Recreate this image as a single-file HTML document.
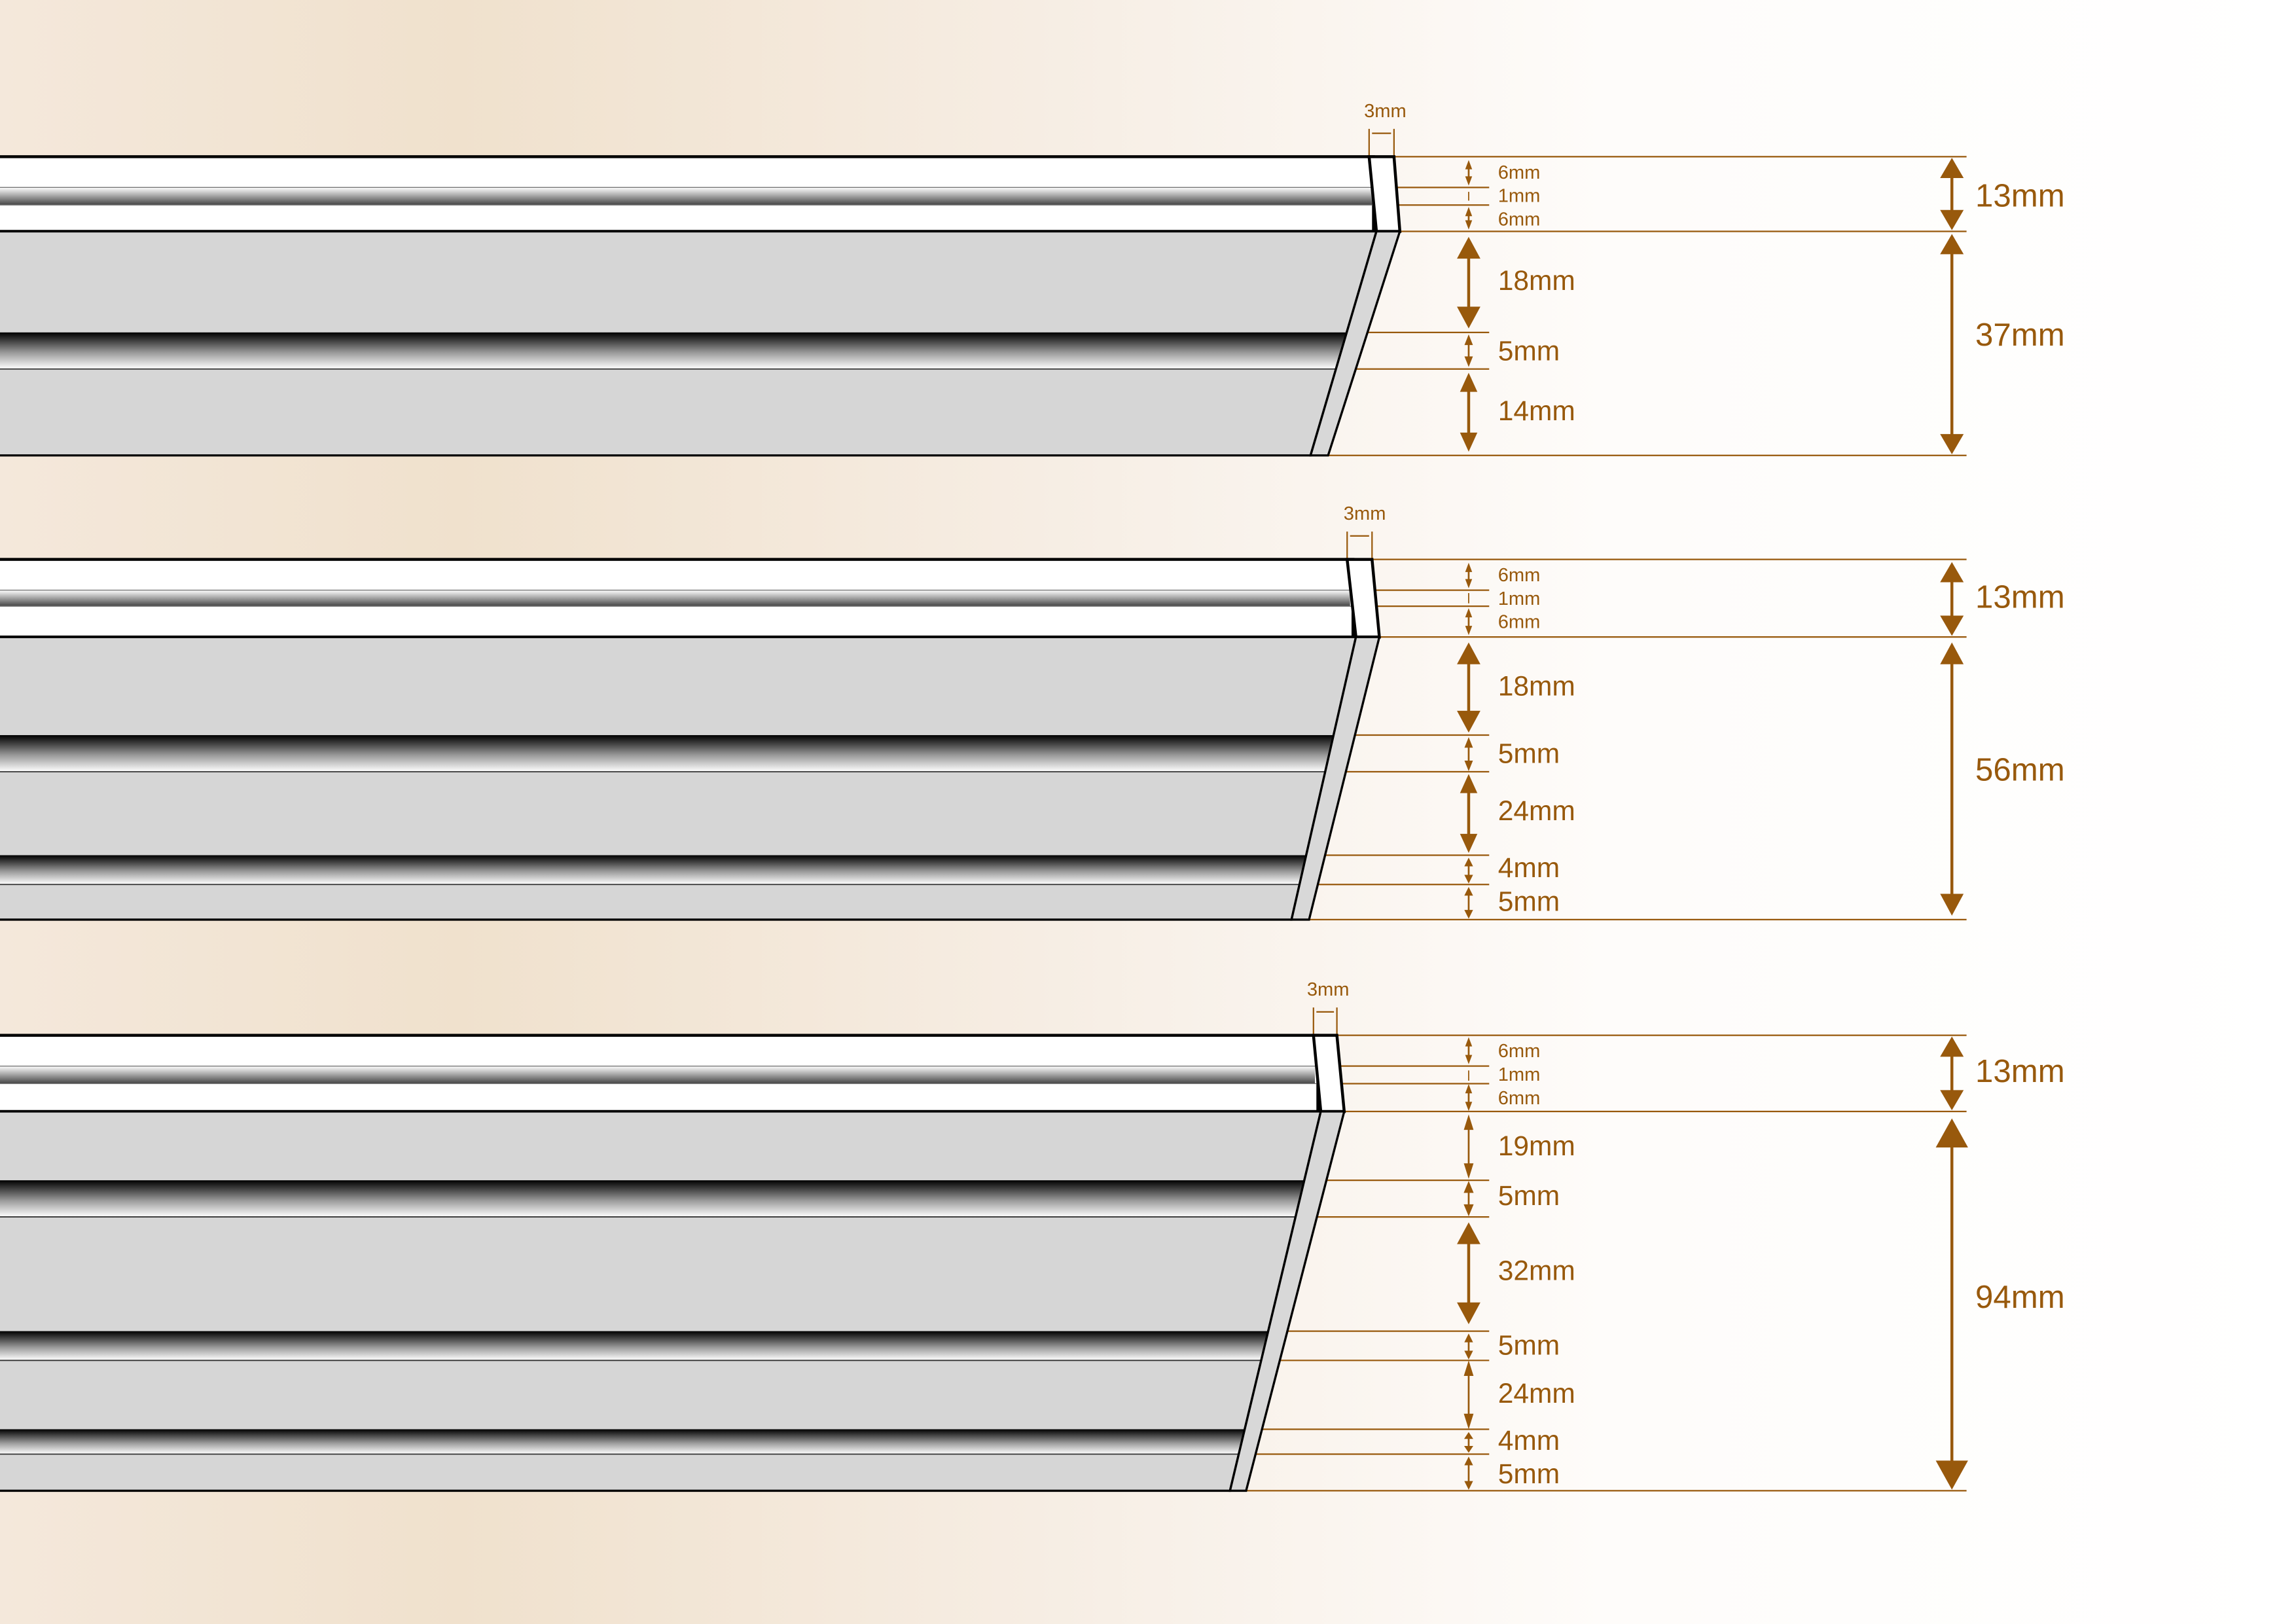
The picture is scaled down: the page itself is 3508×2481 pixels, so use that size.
<!DOCTYPE html>
<html><head><meta charset="utf-8"><style>
html,body{margin:0;padding:0;width:3508px;height:2481px;overflow:hidden;background:#fff}
svg{display:block}
text{font-family:"Liberation Sans",sans-serif;fill:#98590c}
</style></head><body>
<svg width="3508" height="2481" viewBox="0 0 1568 1109" preserveAspectRatio="none" xmlns="http://www.w3.org/2000/svg">
<defs>
<linearGradient id="bg" x1="0" x2="1" y1="0" y2="0">
<stop offset="0" stop-color="#f4e8db"/><stop offset="0.2" stop-color="#f0e1cd"/><stop offset="0.45" stop-color="#f6ede3"/><stop offset="0.7" stop-color="#fefcfa"/><stop offset="1" stop-color="#fff"/></linearGradient>
<linearGradient id="dk" x1="0" x2="0" y1="0" y2="1"><stop offset="0" stop-color="#000"/><stop offset="0.55" stop-color="#999"/><stop offset="1" stop-color="#fff"/></linearGradient>
<linearGradient id="th" x1="0" x2="0" y1="0" y2="1"><stop offset="0" stop-color="#fff"/><stop offset="0.45" stop-color="#aaa"/><stop offset="1" stop-color="#444"/></linearGradient>
<clipPath id="c1"><polygon points="-5,158 940,158 895,311 -5,311"/></clipPath>
<clipPath id="c2"><polygon points="-5,435 926,435 882,628 -5,628"/></clipPath>
<clipPath id="c3"><polygon points="-5,759 902,759 840,1018 -5,1018"/></clipPath>
</defs>
<rect width="1568" height="1109" fill="url(#bg)"/>

<g stroke="#98590c" stroke-width="1" fill="none">
<line x1="952" y1="107" x2="1343" y2="107"/><line x1="956" y1="158" x2="1343" y2="158"/><line x1="907" y1="311" x2="1343" y2="311"/>
<line x1="937" y1="128" x2="1017" y2="128"/><line x1="938" y1="140" x2="1017" y2="140"/>
<line x1="920" y1="227" x2="1017" y2="227"/><line x1="913" y1="252" x2="1017" y2="252"/>
<line x1="935" y1="88" x2="935" y2="107"/><line x1="952" y1="88" x2="952" y2="107"/><line x1="937" y1="91" x2="950" y2="91"/>
<line x1="937" y1="382" x2="1343" y2="382"/><line x1="942" y1="435" x2="1343" y2="435"/><line x1="894" y1="628" x2="1343" y2="628"/>
<line x1="922" y1="403" x2="1017" y2="403"/><line x1="923" y1="414" x2="1017" y2="414"/>
<line x1="910" y1="502" x2="1017" y2="502"/><line x1="904" y1="527" x2="1017" y2="527"/>
<line x1="890" y1="584" x2="1017" y2="584"/><line x1="886" y1="604" x2="1017" y2="604"/>
<line x1="920" y1="363" x2="920" y2="382"/><line x1="937" y1="363" x2="937" y2="382"/><line x1="922" y1="366" x2="935" y2="366"/>
<line x1="913" y1="707" x2="1343" y2="707"/><line x1="918" y1="759" x2="1343" y2="759"/><line x1="851" y1="1018" x2="1343" y2="1018"/>
<line x1="898" y1="728" x2="1017" y2="728"/><line x1="899" y1="740" x2="1017" y2="740"/>
<line x1="891" y1="806" x2="1017" y2="806"/><line x1="884" y1="831" x2="1017" y2="831"/>
<line x1="866" y1="909" x2="1017" y2="909"/><line x1="861" y1="929" x2="1017" y2="929"/>
<line x1="849" y1="976" x2="1017" y2="976"/><line x1="845" y1="993" x2="1017" y2="993"/>
<line x1="897" y1="688" x2="897" y2="707"/><line x1="913" y1="688" x2="913" y2="707"/><line x1="899" y1="691" x2="911" y2="691"/>
</g>

<rect x="-5" y="107" width="943" height="51" fill="#fff" stroke="#000" stroke-width="2"/>
<rect x="0" y="128" width="937" height="12" fill="url(#th)"/>
<line x1="0" y1="128" x2="937" y2="128" stroke="#777" stroke-width="0.6"/><line x1="0" y1="140" x2="938" y2="140" stroke="#777" stroke-width="0.6"/>
<polygon points="935,107 952,107 956,158 940,158" fill="#fff" stroke="#000" stroke-width="2"/>
<g clip-path="url(#c1)"><rect x="-5" y="158" width="965" height="153" fill="#d6d6d6"/><rect x="-5" y="227" width="965" height="25" fill="url(#dk)"/>
<line x1="0" y1="252" x2="960" y2="252" stroke="#333" stroke-width="0.8"/></g>
<polygon points="-5,158 940,158 895,311 -5,311" fill="none" stroke="#000" stroke-width="1.5"/>
<polygon points="940,158 956,158 907,311 895,311" fill="#d8d8d8" stroke="#000" stroke-width="1.5"/>

<rect x="-5" y="382" width="929" height="53" fill="#fff" stroke="#000" stroke-width="2"/>
<rect x="0" y="403" width="922" height="11" fill="url(#th)"/>
<line x1="0" y1="403" x2="922" y2="403" stroke="#777" stroke-width="0.6"/><line x1="0" y1="414" x2="923" y2="414" stroke="#777" stroke-width="0.6"/>
<polygon points="920,382 937,382 942,435 926,435" fill="#fff" stroke="#000" stroke-width="2"/>
<g clip-path="url(#c2)"><rect x="-5" y="435" width="965" height="193" fill="#d6d6d6"/><rect x="-5" y="502" width="965" height="25" fill="url(#dk)"/><rect x="-5" y="584" width="965" height="20" fill="url(#dk)"/>
<line x1="0" y1="527" x2="960" y2="527" stroke="#333" stroke-width="0.8"/><line x1="0" y1="604" x2="960" y2="604" stroke="#333" stroke-width="0.8"/></g>
<polygon points="-5,435 926,435 882,628 -5,628" fill="none" stroke="#000" stroke-width="1.5"/>
<polygon points="926,435 942,435 894,628 882,628" fill="#d8d8d8" stroke="#000" stroke-width="1.5"/>

<rect x="-5" y="707" width="905" height="52" fill="#fff" stroke="#000" stroke-width="2"/>
<rect x="0" y="728" width="898" height="12" fill="url(#th)"/>
<line x1="0" y1="728" x2="898" y2="728" stroke="#777" stroke-width="0.6"/><line x1="0" y1="740" x2="899" y2="740" stroke="#777" stroke-width="0.6"/>
<polygon points="897,707 913,707 918,759 902,759" fill="#fff" stroke="#000" stroke-width="2"/>
<g clip-path="url(#c3)"><rect x="-5" y="759" width="965" height="259" fill="#d6d6d6"/><rect x="-5" y="806" width="965" height="25" fill="url(#dk)"/><rect x="-5" y="909" width="965" height="20" fill="url(#dk)"/><rect x="-5" y="976" width="965" height="17" fill="url(#dk)"/>
<line x1="0" y1="831" x2="960" y2="831" stroke="#333" stroke-width="0.8"/><line x1="0" y1="929" x2="960" y2="929" stroke="#333" stroke-width="0.8"/><line x1="0" y1="993" x2="960" y2="993" stroke="#333" stroke-width="0.8"/></g>
<polygon points="-5,759 902,759 840,1018 -5,1018" fill="none" stroke="#000" stroke-width="1.5"/>
<polygon points="902,759 918,759 851,1018 840,1018" fill="#d8d8d8" stroke="#000" stroke-width="1.5"/>

<g stroke="#98590c" stroke-width="1.2" fill="#98590c">
<line x1="1003" y1="113" x2="1003" y2="123"/><polygon points="1003,111 1001.5,115 1004.5,115"/><polygon points="1003,125 1001.5,121 1004.5,121"/>
<line x1="1003" y1="131" x2="1003" y2="137" stroke-width="0.8"/>
<line x1="1003" y1="145" x2="1003" y2="153"/><polygon points="1003,143 1001.5,147 1004.5,147"/><polygon points="1003,155 1001.5,151 1004.5,151"/>
<line x1="1003" y1="170" x2="1003" y2="216" stroke-width="2"/><polygon points="1003,163 996,176 1010,176"/><polygon points="1003,223 996,210 1010,210"/>
<line x1="1003" y1="232" x2="1003" y2="247"/><polygon points="1003,230 1001,235 1005,235"/><polygon points="1003,249 1001,244 1005,244"/>
<line x1="1003" y1="262" x2="1003" y2="301" stroke-width="2"/><polygon points="1003,256 998,267 1008,267"/><polygon points="1003,307 998,296 1008,296"/>
<line x1="1333" y1="115" x2="1333" y2="150" stroke-width="2"/><polygon points="1333,109 1326,121 1340,121"/><polygon points="1333,156 1326,144 1340,144"/>
<line x1="1333" y1="167" x2="1333" y2="303" stroke-width="2"/><polygon points="1333,161 1326,173 1340,173"/><polygon points="1333,309 1326,297 1340,297"/>
<line x1="1003" y1="388" x2="1003" y2="398"/><polygon points="1003,386 1001.5,390 1004.5,390"/><polygon points="1003,400 1001.5,396 1004.5,396"/>
<line x1="1003" y1="405" x2="1003" y2="412" stroke-width="0.8"/>
<line x1="1003" y1="419" x2="1003" y2="430"/><polygon points="1003,417 1001.5,421 1004.5,421"/><polygon points="1003,432 1001.5,428 1004.5,428"/>
<line x1="1003" y1="447" x2="1003" y2="492" stroke-width="2"/><polygon points="1003,440 996,453 1010,453"/><polygon points="1003,499 996,486 1010,486"/>
<line x1="1003" y1="507" x2="1003" y2="523"/><polygon points="1003,505 1001,510 1005,510"/><polygon points="1003,525 1001,520 1005,520"/>
<line x1="1003" y1="536" x2="1003" y2="575" stroke-width="2"/><polygon points="1003,530 998,541 1008,541"/><polygon points="1003,581 998,570 1008,570"/>
<line x1="1003" y1="589" x2="1003" y2="600"/><polygon points="1003,587 1001,591 1005,591"/><polygon points="1003,602 1001,598 1005,598"/>
<line x1="1003" y1="609" x2="1003" y2="624"/><polygon points="1003,607 1001,611 1005,611"/><polygon points="1003,626 1001,622 1005,622"/>
<line x1="1333" y1="391" x2="1333" y2="427" stroke-width="2"/><polygon points="1333,385 1326,397 1340,397"/><polygon points="1333,433 1326,421 1340,421"/>
<line x1="1333" y1="446" x2="1333" y2="618" stroke-width="2"/><polygon points="1333,440 1326,453 1340,453"/><polygon points="1333,624 1326,611 1340,611"/>
<line x1="1003" y1="712" x2="1003" y2="723"/><polygon points="1003,710 1001.5,714 1004.5,714"/><polygon points="1003,725 1001.5,721 1004.5,721"/>
<line x1="1003" y1="731" x2="1003" y2="738" stroke-width="0.8"/>
<line x1="1003" y1="744" x2="1003" y2="755"/><polygon points="1003,742 1001.5,746 1004.5,746"/><polygon points="1003,757 1001.5,753 1004.5,753"/>
<line x1="1003" y1="767" x2="1003" y2="799"/><polygon points="1003,763 1000.5,771 1005.5,771"/><polygon points="1003,803 1000.5,795 1005.5,795"/>
<line x1="1003" y1="811" x2="1003" y2="826"/><polygon points="1003,808 1000.5,814 1005.5,814"/><polygon points="1003,829 1000.5,823 1005.5,823"/>
<line x1="1003" y1="843" x2="1003" y2="896" stroke-width="2"/><polygon points="1003,836 996,849 1010,849"/><polygon points="1003,903 996,890 1010,890"/>
<line x1="1003" y1="914" x2="1003" y2="925"/><polygon points="1003,912 1001,916 1005,916"/><polygon points="1003,927 1001,923 1005,923"/>
<line x1="1003" y1="935" x2="1003" y2="970"/><polygon points="1003,931 1000.5,939 1005.5,939"/><polygon points="1003,974 1000.5,966 1005.5,966"/>
<line x1="1003" y1="981" x2="1003" y2="989"/><polygon points="1003,979 1001,982 1005,982"/><polygon points="1003,991 1001,988 1005,988"/>
<line x1="1003" y1="998" x2="1003" y2="1014"/><polygon points="1003,996 1001,1000 1005,1000"/><polygon points="1003,1016 1001,1012 1005,1012"/>
<line x1="1333" y1="715" x2="1333" y2="751" stroke-width="2"/><polygon points="1333,709 1326,721 1340,721"/><polygon points="1333,757 1326,745 1340,745"/>
<line x1="1333" y1="775" x2="1333" y2="1006" stroke-width="2"/><polygon points="1333,765 1323,783 1343,783"/><polygon points="1333,1016 1323,998 1343,998"/>
</g>

<g font-size="13">
<text x="946" y="80" text-anchor="middle">3mm</text>
<text x="932" y="355" text-anchor="middle">3mm</text>
<text x="907" y="680" text-anchor="middle">3mm</text>
<text x="1023" y="122">6mm</text><text x="1023" y="138">1mm</text><text x="1023" y="154">6mm</text>
<text x="1023" y="397">6mm</text><text x="1023" y="413">1mm</text><text x="1023" y="429">6mm</text>
<text x="1023" y="722">6mm</text><text x="1023" y="738">1mm</text><text x="1023" y="754">6mm</text>
</g>
<g font-size="19">
<text x="1023" y="198">18mm</text><text x="1023" y="246">5mm</text><text x="1023" y="287">14mm</text>
<text x="1023" y="475">18mm</text><text x="1023" y="521">5mm</text><text x="1023" y="560">24mm</text><text x="1023" y="599">4mm</text><text x="1023" y="622">5mm</text>
<text x="1023" y="789">19mm</text><text x="1023" y="823">5mm</text><text x="1023" y="874">32mm</text><text x="1023" y="925">5mm</text><text x="1023" y="958">24mm</text><text x="1023" y="990">4mm</text><text x="1023" y="1013">5mm</text>
</g>
<g font-size="22">
<text x="1349" y="141">13mm</text><text x="1349" y="236">37mm</text>
<text x="1349" y="415">13mm</text><text x="1349" y="533">56mm</text>
<text x="1349" y="739">13mm</text><text x="1349" y="893">94mm</text>
</g>
</svg>
</body></html>
